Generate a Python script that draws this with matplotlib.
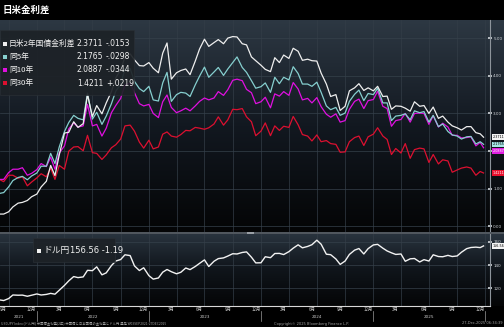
import numpy as np
import pandas as pd
import matplotlib
matplotlib.use("Agg")
import matplotlib.pyplot as plt
import matplotlib.dates as mdates
import matplotlib.transforms as mtrans
from matplotlib import font_manager
from matplotlib.colors import LinearSegmentedColormap
from matplotlib.patches import Rectangle

# semi-monthly points (spreads in %, USDJPY in yen)
dates = pd.to_datetime(["2021-09-03"]
                       + [d.strftime("%Y-%m-%d") for d in pd.date_range("2021-09-15", "2025-12-15", freq="SMS")]
                       + ["2025-12-26"])

spread_2y = [0.33, 0.33, 0.39, 0.52, 0.62, 0.64, 0.69, 0.79, 0.86, 1.05,
             1.20, 1.62, 1.35, 1.90, 2.48, 2.50, 2.78, 2.63, 2.73, 3.50,
             2.92, 3.21, 2.99, 3.28, 3.58, 3.94, 4.16, 4.50, 4.58, 4.42,
             4.27, 4.26, 4.35, 4.20, 4.08, 4.60, 4.87, 3.91, 4.08, 4.14,
             4.18, 4.03, 4.39, 4.71, 4.97, 4.78, 4.88, 4.96, 4.85, 5.00,
             5.04, 5.03, 4.85, 4.82, 4.50, 4.40, 4.28, 4.17, 4.11, 4.48,
             4.35, 4.55, 4.46, 4.73, 4.65, 4.41, 4.44, 4.40, 4.39, 4.07,
             3.78, 3.45, 3.50, 3.08, 3.19, 3.60, 3.68, 3.79, 3.61, 3.68,
             3.60, 3.72, 3.45, 3.46, 3.11, 3.20, 3.19, 3.14, 3.06, 3.31,
             3.19, 3.21, 3.00, 3.17, 2.87, 2.93, 2.77, 2.67, 2.62, 2.56,
             2.65, 2.65, 2.49, 2.46, 2.37]

spread_5y = [0.88, 0.90, 1.05, 1.22, 1.30, 1.33, 1.24, 1.34, 1.42, 1.60,
             1.60, 1.94, 1.67, 2.11, 2.52, 2.76, 2.95, 2.87, 2.83, 3.54,
             2.85, 3.03, 2.71, 2.93, 3.26, 3.59, 3.77, 4.19, 4.19, 3.85,
             3.66, 3.58, 3.72, 3.36, 3.33, 3.81, 4.09, 3.32, 3.50, 3.56,
             3.54, 3.45, 3.76, 3.99, 4.23, 3.96, 4.10, 4.22, 4.01, 4.18,
             4.35, 4.50, 4.22, 4.09, 3.87, 3.67, 3.71, 3.81, 3.56, 3.96,
             3.79, 3.96, 3.89, 4.24, 4.06, 3.78, 3.78, 3.72, 3.83, 3.56,
             3.20, 3.10, 3.16, 2.95, 3.01, 3.32, 3.51, 3.62, 3.34, 3.53,
             3.50, 3.67, 3.28, 3.28, 2.81, 2.93, 2.95, 2.99, 2.83, 3.07,
             3.02, 3.05, 2.77, 2.95, 2.65, 2.72, 2.52, 2.43, 2.40, 2.32,
             2.38, 2.39, 2.19, 2.25, 2.18]

spread_10y = [1.25, 1.25, 1.43, 1.52, 1.52, 1.56, 1.36, 1.41, 1.51, 1.67,
              1.59, 1.84, 1.52, 1.95, 2.14, 2.59, 2.75, 2.64, 2.67, 3.24,
              2.67, 2.71, 2.40, 2.61, 3.02, 3.21, 3.40, 3.76, 3.80, 3.55,
              3.26, 3.20, 3.24, 3.00, 2.89, 3.31, 3.49, 3.16, 3.02, 3.07,
              3.14, 3.07, 3.20, 3.32, 3.41, 3.36, 3.41, 3.58, 3.48, 3.63,
              3.88, 3.91, 3.87, 3.64, 3.55, 3.26, 3.31, 3.43, 3.15, 3.52,
              3.46, 3.58, 3.48, 3.82, 3.65, 3.36, 3.40, 3.28, 3.42, 3.18,
              2.98, 2.90, 2.99, 2.77, 2.81, 3.11, 3.32, 3.38, 3.13, 3.34,
              3.37, 3.59, 3.19, 3.13, 2.66, 2.81, 2.84, 3.00, 2.77, 3.00,
              3.01, 3.00, 2.71, 2.94, 2.64, 2.74, 2.64, 2.42, 2.42, 2.35,
              2.36, 2.38, 2.14, 2.23, 2.09]

spread_30y = [1.24, 1.19, 1.36, 1.36, 1.28, 1.32, 1.08, 1.18, 1.29, 1.40,
              1.32, 1.55, 1.25, 1.62, 1.52, 2.00, 2.11, 2.12, 2.01, 2.42,
              1.96, 1.94, 1.78, 1.90, 2.09, 2.17, 2.32, 2.67, 2.69, 2.53,
              2.24, 2.08, 2.29, 2.06, 2.11, 2.45, 2.51, 2.40, 2.37, 2.44,
              2.55, 2.54, 2.63, 2.61, 2.58, 2.62, 2.72, 2.91, 2.69, 2.83,
              3.11, 3.10, 3.13, 2.91, 2.78, 2.41, 2.53, 2.75, 2.41, 2.67,
              2.55, 2.66, 2.63, 2.92, 2.70, 2.44, 2.40, 2.27, 2.43, 2.25,
              2.28, 2.20, 2.18, 1.97, 1.98, 2.25, 2.36, 2.40, 2.15, 2.38,
              2.45, 2.62, 2.40, 2.31, 1.91, 2.07, 1.95, 2.20, 1.81, 2.04,
              2.08, 2.06, 1.70, 1.91, 1.66, 1.77, 1.74, 1.44, 1.50, 1.55,
              1.58, 1.55, 1.36, 1.46, 1.42]

usdjpy = [109.9, 109.4, 111.1, 114.2, 114.0, 114.1, 113.1, 114.0, 115.1, 114.2,
          114.7, 115.6, 114.9, 118.3, 122.5, 126.4, 130.1, 129.2, 129.8, 135.5,
          135.2, 138.5, 131.6, 133.3, 139.6, 143.5, 144.8, 148.9, 148.2, 139.3,
          135.3, 137.7, 130.9, 127.9, 128.9, 133.9, 136.2, 134.3, 132.5, 133.8,
          137.5, 136.1, 138.8, 141.5, 144.5, 138.8, 143.3, 145.6, 146.2, 147.8,
          149.8, 149.6, 150.9, 151.4, 146.8, 141.9, 142.0, 147.2, 146.4, 150.0,
          150.1, 149.1, 151.6, 154.6, 157.5, 154.9, 156.1, 157.6, 161.5, 158.0,
          149.4, 149.0, 145.3, 140.6, 143.5, 149.2, 152.9, 154.3, 149.6, 154.2,
          157.4, 157.9, 154.6, 152.2, 150.6, 149.2, 149.6, 143.3, 145.4, 145.7,
          142.7, 144.7, 143.5, 148.9, 147.4, 147.2, 148.4, 147.4, 147.9, 151.1,
          154.2, 155.2, 155.5, 155.1, 156.56]

series_names = ["日米2年国債金利差", "同5年", "同10年", "同30年"]
last_values = ["2.3711", "2.1765", "2.0887", "1.4211"]
changes = ["-.0153", "-.0298", "-.0344", "+.0219"]
fx_name, fx_last, fx_change = "ドル円", "156.56", "-1.19"
colors = ["#eeeeee", "#86cfcf", "#e010e0", "#dc1030"]

# fonts
names = {f.name for f in font_manager.fontManager.ttflist}
NARROW = "Liberation Sans Narrow" if "Liberation Sans Narrow" in names else "DejaVu Sans"
JP = ["Noto Sans CJK JP", "DejaVu Sans"]
NUM = [NARROW, "DejaVu Sans"]
plt.rcParams["font.family"] = JP

W, H = 504, 327
fig = plt.figure(figsize=(W / 100, H / 100), dpi=100, facecolor="black")


def box(x0, y0, x1, y1):
    # pixel box with top-left origin -> figure fraction rect
    return [x0 / W, 1 - y1 / H, (x1 - x0) / W, (y1 - y0) / H]


def pt(x, y):
    return x / W, 1 - y / H


top_box = box(0, 20, 490, 232)
bot_box = box(0, 233, 490, 306)

# gradient backgrounds
grad = np.linspace(0, 1, 256).reshape(-1, 1)
for rect, cols in ((box(0, 20, W, 232), ["#040506", "#121820", "#2d3843"]),
                   (box(0, 233, W, 306), ["#040506", "#10151b", "#2a3540"])):
    bg = fig.add_axes(rect, zorder=0)
    bg.imshow(grad, cmap=LinearSegmentedColormap.from_list("g", cols),
              origin="lower", aspect="auto", extent=[0, 1, 0, 1])
    bg.set_axis_off()

ax1 = fig.add_axes(top_box, zorder=1)
ax2 = fig.add_axes(bot_box, zorder=1)

x_start, x_end = pd.Timestamp("2021-09-03"), pd.Timestamp("2026-01-16")
quarters = pd.date_range("2021-10-01", "2026-01-01", freq="QS")

for ax in (ax1, ax2):
    ax.set_facecolor("none")
    ax.set_xlim(x_start, x_end)
    for s in ("left", "top", "bottom"):
        ax.spines[s].set_visible(False)
    ax.spines["right"].set_color("#8d949b")
    ax.spines["right"].set_linewidth(0.8)
    ax.yaxis.tick_right()
    ax.tick_params(axis="y", direction="inout", length=2.5, width=1.2,
                   colors="#d0d4d8", labelsize=3, pad=1)
    ax.grid(axis="y", color="#36414b", lw=0.5)
    for q in quarters:
        ax.axvline(q, color="#333d47", lw=0.5, zorder=0.5)

# top panel: spreads
for vals, c in zip([spread_30y, spread_10y, spread_5y, spread_2y], colors[::-1]):
    ax1.plot(dates, vals, color=c, lw=0.9, zorder=3)
ax1.set_ylim(-0.146, 5.48)
ax1.set_yticks([0, 1, 2, 3, 4, 5])
# the 2.00 label sits under the value tags in the original
ax1.set_yticklabels(["0.00", "1.00", "", "3.00", "4.00", "5.00"], family=NUM)
ax1.set_xticks([])

# bottom panel: USDJPY
ax2.plot(dates, usdjpy, color="#f2f2f2", lw=1.0, zorder=3)
ax2.set_ylim(104.7, 167.7)
ax2.set_yticks([120, 140, 160])
ax2.set_yticklabels(["120", "140", "160"], family=NUM)
ax2.spines["bottom"].set_visible(True)
ax2.spines["bottom"].set_color("#d8d8d8")
ax2.spines["bottom"].set_linewidth(0.8)

month_ticks = [pd.Timestamp(y, m, 15) for y in range(2021, 2026) for m in (3, 6, 9, 12)
               if pd.Timestamp(y, m, 15) > x_start]
ax2.set_xticks(month_ticks)
ax2.set_xticklabels([f"{d.month}月" for d in month_ticks])
ax2.tick_params(axis="x", length=0, labelsize=3.2, colors="#c8c8c8", pad=1)

blend = mtrans.blended_transform_factory(ax2.transData, ax2.transAxes)
for year in range(2021, 2026):
    a = max(pd.Timestamp(year, 1, 1), x_start)
    b = pd.Timestamp(year + 1, 1, 1)
    mid = mdates.num2date((mdates.date2num(a) + mdates.date2num(b)) / 2)
    ax2.text(mid, -0.15, str(year), transform=blend, ha="center", va="center",
             fontsize=3, color="#c8c8c8", family=NUM)
    ax2.plot([b, b], [-0.07, -0.2], transform=blend, clip_on=False, color="#9a9a9a", lw=0.5)

# panel separator
fig.add_artist(Rectangle(pt(0, 233.5), 1, 1.5 / H, transform=fig.transFigure,
                         facecolor="#50575e", edgecolor="none", zorder=4))
fig.add_artist(Rectangle(pt(247, 233.5), 7 / W, 1.5 / H, transform=fig.transFigure,
                         facecolor="#9aa0a6", edgecolor="none", zorder=5))

# right-edge value tags
tag_style = [("#f4f4f4", "black", 0), ("#a6e6e6", "black", 0), ("#e020e0", "white", -3), ("#e8102e", "white", 0)]
for txt, (fc, tc, dy) in zip(last_values, tag_style):
    ax1.annotate(txt, xy=(1, float(txt)), xycoords=("axes fraction", "data"),
                 xytext=(2.5, dy), textcoords="offset pixels", ha="left", va="center",
                 fontsize=2.4, color=tc, family=NUM, annotation_clip=False, zorder=6,
                 bbox=dict(boxstyle="square,pad=0.25", fc=fc, ec="none"))
ax2.annotate(fx_last, xy=(1, float(fx_last)), xycoords=("axes fraction", "data"),
             xytext=(2.5, 0), textcoords="offset pixels", ha="left", va="center",
             fontsize=2.4, color="black", family=NUM, annotation_clip=False, zorder=6,
             bbox=dict(boxstyle="square,pad=0.25", fc="#f4f4f4", ec="none"))

# legend of top panel
fig.add_artist(Rectangle(pt(0, 95), 134 / W, 65 / H, transform=fig.transFigure,
                         facecolor="#1d2227", edgecolor="#2a3036", lw=0.5, alpha=0.92, zorder=7))
for i, (name, val, chg, c) in enumerate(zip(series_names, last_values, changes, colors)):
    y = 43.5 + i * 13.2
    fig.add_artist(Rectangle(pt(3, y + 2), 4 / W, 4 / H, transform=fig.transFigure,
                             facecolor=c, edgecolor="none", zorder=8))
    fig.text(*pt(9, y), name, fontsize=5.6, color="#f2f2f2", va="center", ha="left", zorder=8)
    fig.text(*pt(103, y), val, fontsize=5.5, color="#f2f2f2", va="center", ha="right",
             family=NUM, zorder=8)
    fig.text(*pt(106, y), chg, fontsize=5.5, color="#f2f2f2", va="center", ha="left",
             family=NUM, zorder=8)

# legend of bottom panel
fig.add_artist(Rectangle(pt(33, 262), 82 / W, 24 / H, transform=fig.transFigure,
                         facecolor="#1d2227", edgecolor="#2a3036", lw=0.5, alpha=0.92, zorder=7))
fig.add_artist(Rectangle(pt(37, 253), 4 / W, 4 / H, transform=fig.transFigure,
                         facecolor="#f2f2f2", edgecolor="none", zorder=8))
fig.text(*pt(43, 250.5), fx_name, fontsize=6.3, color="#f2f2f2", va="center", ha="left", zorder=8)
fig.text(*pt(70, 250.5), f"{fx_last} {fx_change}", fontsize=6, color="#f2f2f2",
         va="center", ha="left", family=NUM, zorder=8)

# title and footer
fig.text(*pt(3, 10), "日米金利差", fontsize=6.8, weight="bold", color="white", va="center", ha="left")
fig.text(*pt(1, 323.5), "USDJPY Index (ドル円) 米国債金利差(2年) 米国債と日本国債の金利差とドル円 週足 W03SEP2021-27DEC2025",
         fontsize=2.4, color="#a0a0a0", va="center", ha="left")
fig.text(*pt(311, 323.5), "Copyright© 2025 Bloomberg Finance L.P.", fontsize=2.6,
         color="#a0a0a0", va="center", ha="center", family=NUM)
fig.text(*pt(503, 323.5), "27-Dec-2025 06:34:39", fontsize=2.6, color="#a0a0a0",
         va="center", ha="right", family=NUM)

fig.savefig("out.png", dpi=100, facecolor="black")
